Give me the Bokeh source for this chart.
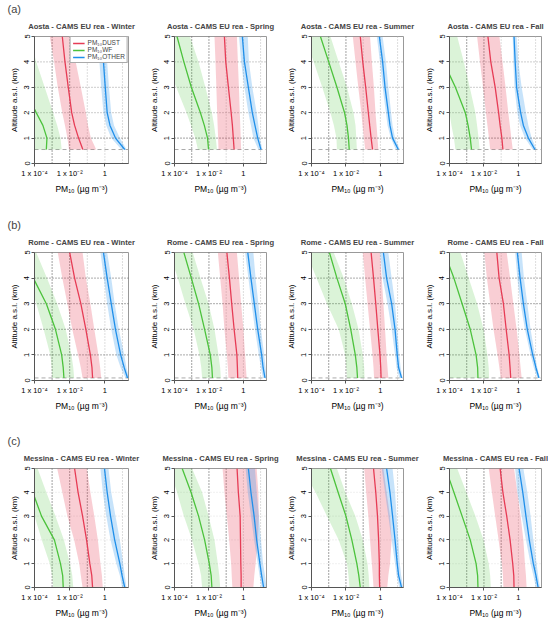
from bokeh.plotting import figure
from bokeh.layouts import column, row
from bokeh.models import Range1d, FixedTicker, Span, Title, Legend, LegendItem
from bokeh.embed import file_html
from bokeh.resources import INLINE

# ---------------- data ----------------
stations = ["Aosta", "Rome", "Messina"]
seasons = ["Winter", "Spring", "Summer", "Fall"]
panel_letters = ["(a)", "(b)", "(c)"]
series_keys = ["dust", "wf", "other"]
series_names = ["PM\u2081\u2080DUST", "PM\u2081\u2080WF", "PM\u2081\u2080OTHER"]
x_tick_values = [1e-4, 1e-2, 1]
x_tick_labels = ["1 x 10\u207b\u2074", "1 x 10\u207b\u00b2", "1"]
y_tick_values = [0, 1, 2, 3, 4, 5]
x_label = "PM\u2081\u2080 (\u00b5g m\u207b\u00b3)"
y_label = "Altitude a.s.l. (km)"

# altitude levels (km a.s.l.) of the profiles
alt_aosta = [0.55, 1, 1.5, 2, 3, 4, 5]
alt_rome = [0.1, 0.5, 1, 2, 3, 4, 5]
alt_messina = [0, 0.5, 1, 2, 3, 4, 5]
station_altitude = [0.55, 0.1, None]

# ---- Aosta (µg m-3): median, lower, upper ----
aosta_winter_dust = [0.056, 0.032, 0.019, 0.013, 0.0083, 0.0054, 0.0038]
aosta_winter_dust_lo = [0.0091, 0.0074, 0.0054, 0.0038, 0.0021, 0.0013, 0.00074]
aosta_winter_dust_hi = [0.32, 0.16, 0.11, 0.083, 0.043, 0.022, 0.013]
aosta_winter_wf = [4.7e-4, 5.1e-4, 3.0e-4, 1.26e-4, 2.5e-5, 6.3e-6, 1.6e-6]
aosta_winter_wf_lo = [1e-6, 1e-6, 1e-6, 1e-6, 1e-6, 1e-6, 1e-6]
aosta_winter_wf_hi = [3.5e-3, 3.0e-3, 1.95e-3, 1.15e-3, 3.8e-4, 1.26e-4, 5.1e-5]
aosta_winter_other = [13.5, 4.0, 1.95, 1.35, 1.05, 0.83, 0.74]
aosta_winter_other_lo = [8.7, 2.3, 1.2, 0.83, 0.62, 0.49, 0.43]
aosta_winter_other_hi = [17, 7.1, 3.3, 2.3, 1.7, 1.35, 1.2]

aosta_spring_dust = [0.29, 0.26, 0.23, 0.195, 0.135, 0.095, 0.079]
aosta_spring_dust_lo = [0.036, 0.034, 0.032, 0.030, 0.027, 0.024, 0.021]
aosta_spring_dust_hi = [0.74, 0.70, 0.66, 0.62, 0.55, 0.48, 0.42]
aosta_spring_wf = [9.5e-3, 8.3e-3, 5.4e-3, 3.2e-3, 9.5e-4, 3.5e-4, 1.4e-4]
aosta_spring_wf_lo = [2.3e-3, 1.6e-3, 9.1e-4, 5e-4, 1.26e-4, 3.2e-5, 1e-5]
aosta_spring_wf_hi = [0.029, 0.025, 0.020, 0.0148, 6.2e-3, 2.5e-3, 7.9e-4]
aosta_spring_other = [10.5, 6.8, 4.7, 3.3, 1.95, 1.15, 0.87]
aosta_spring_other_lo = [7.4, 3.8, 2.75, 1.95, 1.15, 0.74, 0.56]
aosta_spring_other_hi = [12.6, 9.1, 7.4, 5.9, 3.3, 2.1, 1.8]

aosta_summer_dust = [0.35, 0.29, 0.24, 0.20, 0.14, 0.095, 0.068]
aosta_summer_dust_lo = [0.13, 0.11, 0.093, 0.078, 0.052, 0.036, 0.025]
aosta_summer_dust_hi = [0.76, 0.68, 0.60, 0.52, 0.42, 0.32, 0.25]
aosta_summer_wf = [0.0155, 0.0141, 0.0115, 8.3e-3, 3.0e-3, 1.0e-3, 3.3e-4]
aosta_summer_wf_lo = [3.0e-3, 2.8e-3, 2.0e-3, 1.26e-3, 4.2e-4, 1.35e-4, 4e-5]
aosta_summer_wf_hi = [0.043, 0.040, 0.036, 0.0275, 0.0115, 3.8e-3, 1.26e-3]
aosta_summer_other = [11, 5.1, 3.6, 2.9, 1.86, 1.35, 0.87]
aosta_summer_other_lo = [7.9, 4.0, 2.6, 2.1, 1.35, 0.95, 0.62]
aosta_summer_other_hi = [13.5, 7.1, 5.1, 4.2, 2.9, 2.1, 1.35]

aosta_fall_dust = [0.126, 0.11, 0.087, 0.071, 0.045, 0.025, 0.017]
aosta_fall_dust_lo = [0.023, 0.0195, 0.016, 0.013, 8.9e-3, 5.9e-3, 4.0e-3]
aosta_fall_dust_hi = [0.47, 0.39, 0.32, 0.26, 0.18, 0.12, 0.079]
aosta_fall_wf = [1.9e-3, 1.6e-3, 1.2e-3, 8.3e-4, 2.2e-4, 4.5e-5, 1e-5]
aosta_fall_wf_lo = [2.2e-4, 1.8e-4, 1.3e-4, 1e-4, 3e-5, 1e-5, 3e-6]
aosta_fall_wf_hi = [5.6e-3, 4.9e-3, 4e-3, 3.2e-3, 1.5e-3, 6.8e-4, 2.8e-4]
aosta_fall_other = [9.1, 3.8, 1.95, 1.35, 0.79, 0.65, 0.56]
aosta_fall_other_lo = [6.8, 2.4, 1.26, 0.87, 0.59, 0.51, 0.47]
aosta_fall_other_hi = [11.5, 5.9, 3.8, 2.75, 1.55, 1.0, 0.79]

# ---- Rome ----
rome_winter_dust = [0.20, 0.185, 0.15, 0.083, 0.043, 0.019, 0.010]
rome_winter_dust_lo = [0.054, 0.043, 0.030, 0.014, 7.4e-3, 3.8e-3, 2.1e-3]
rome_winter_dust_hi = [0.62, 0.54, 0.43, 0.25, 0.15, 0.083, 0.054]
rome_winter_wf = [4.7e-3, 4.3e-3, 3.5e-3, 1.55e-3, 4.7e-4, 8.5e-5, 1e-5]
rome_winter_wf_lo = [1e-3, 9.5e-4, 7.9e-4, 3.3e-4, 1.26e-4, 4e-5, 1.3e-5]
rome_winter_wf_hi = [0.018, 0.016, 0.0126, 5.9e-3, 1.95e-3, 5.1e-4, 1.26e-4]
rome_winter_other = [19.5, 12.6, 7.9, 4.0, 2.3, 1.35, 0.83]
rome_winter_other_lo = [15, 7.9, 4.5, 2.3, 1.35, 0.87, 0.56]
rome_winter_other_hi = [23, 17, 12.6, 6.2, 3.6, 2.3, 1.35]

rome_spring_dust = [0.47, 0.45, 0.42, 0.29, 0.21, 0.155, 0.11]
rome_spring_dust_lo = [0.135, 0.126, 0.11, 0.079, 0.062, 0.045, 0.033]
rome_spring_dust_hi = [1.55, 1.41, 1.26, 1.0, 0.74, 0.56, 0.42]
rome_spring_wf = [0.016, 0.0148, 0.012, 5.6e-3, 2.5e-3, 9.5e-4, 3.5e-4]
rome_spring_wf_lo = [4e-3, 3.6e-3, 2.8e-3, 1.3e-3, 4.3e-4, 1.55e-4, 5e-5]
rome_spring_wf_hi = [0.049, 0.045, 0.036, 0.021, 9.5e-3, 3.2e-3, 1.15e-3]
rome_spring_other = [18, 14, 11.5, 6.8, 4.3, 2.75, 1.8]
rome_spring_other_lo = [13.5, 10.5, 7.9, 4.7, 3.0, 1.95, 1.26]
rome_spring_other_hi = [22, 19.5, 16, 10.5, 7.4, 5.1, 3.8]

rome_summer_dust = [1.1, 1.05, 0.95, 0.71, 0.54, 0.40, 0.29]
rome_summer_dust_lo = [0.43, 0.40, 0.35, 0.25, 0.18, 0.13, 0.095]
rome_summer_dust_hi = [2.9, 2.6, 2.3, 1.86, 1.5, 1.2, 0.95]
rome_summer_wf = [0.047, 0.043, 0.035, 0.019, 9.1e-3, 3.0e-3, 1.1e-3]
rome_summer_wf_lo = [0.0115, 0.0105, 9.1e-3, 3.8e-3, 7.9e-4, 1.95e-4, 5e-5]
rome_summer_wf_hi = [0.12, 0.115, 0.095, 0.054, 0.022, 7.4e-3, 1.95e-3]
rome_summer_other = [17, 11.5, 9.5, 7.1, 4.5, 2.3, 1.5]
rome_summer_other_lo = [12.6, 8.7, 7.1, 4.5, 2.6, 1.35, 0.95]
rome_summer_other_hi = [19.5, 15, 12.6, 9.5, 7.1, 4.5, 2.9]

rome_fall_dust = [0.36, 0.33, 0.29, 0.195, 0.135, 0.076, 0.056]
rome_fall_dust_lo = [0.095, 0.079, 0.062, 0.036, 0.023, 0.0148, 0.0105]
rome_fall_dust_hi = [1.55, 1.35, 1.15, 0.79, 0.51, 0.33, 0.21]
rome_fall_wf = [4.5e-3, 4.3e-3, 3.5e-3, 1.6e-3, 5.4e-4, 1.8e-4, 5e-5]
rome_fall_wf_lo = [9e-5, 8e-5, 6e-5, 3e-5, 1e-5, 5e-6, 2e-6]
rome_fall_wf_hi = [0.020, 0.019, 0.016, 9.5e-3, 4e-3, 1.3e-3, 4.3e-4]
rome_fall_other = [15.5, 10.5, 6.8, 3.3, 1.95, 1.26, 0.87]
rome_fall_other_lo = [12.6, 7.9, 5.1, 2.4, 1.35, 0.87, 0.65]
rome_fall_other_hi = [18, 12.6, 9.1, 5.1, 3.3, 2.1, 1.55]

# ---- Messina ----
messina_winter_dust = [0.20, 0.18, 0.14, 0.091, 0.054, 0.030, 0.019]
messina_winter_dust_lo = [0.054, 0.043, 0.035, 0.018, 7.4e-3, 3.8e-3, 1.95e-3]
messina_winter_dust_hi = [0.76, 0.68, 0.56, 0.40, 0.25, 0.15, 0.095]
messina_winter_wf = [4.3e-3, 4.0e-3, 3.0e-3, 1.35e-3, 2.5e-4, 8e-5, 1e-5]
messina_winter_wf_lo = [1.15e-3, 1e-3, 7.4e-4, 2.6e-4, 1e-4, 2.5e-5, 6e-6]
messina_winter_wf_hi = [0.016, 0.014, 0.0105, 4.7e-3, 1.55e-3, 4.7e-4, 1.5e-4]
messina_winter_other = [13.5, 9.5, 7.1, 3.6, 2.1, 1.35, 0.95]
messina_winter_other_lo = [9.5, 7.1, 4.5, 2.1, 1.2, 0.76, 0.56]
messina_winter_other_hi = [17, 13.5, 11, 7.1, 4.0, 2.3, 1.6]

messina_spring_dust = [0.74, 0.74, 0.71, 0.68, 0.65, 0.51, 0.43]
messina_spring_dust_lo = [0.23, 0.21, 0.195, 0.15, 0.11, 0.079, 0.062]
messina_spring_dust_hi = [3.8, 4.3, 5.1, 7.0, 7.9, 7.4, 5.9]
messina_spring_wf = [0.0148, 0.0135, 0.0105, 5.6e-3, 2.5e-3, 9.1e-4, 2.8e-4]
messina_spring_wf_lo = [4e-3, 3.5e-3, 2.5e-3, 1.05e-3, 3.5e-4, 1.4e-4, 5e-5]
messina_spring_wf_hi = [0.045, 0.040, 0.033, 0.021, 9.5e-3, 4e-3, 1.05e-3]
messina_spring_other = [15, 11.5, 9.1, 5.9, 4.2, 2.75, 1.95]
messina_spring_other_lo = [11.5, 8.7, 6.8, 4.2, 2.75, 1.8, 1.35]
messina_spring_other_hi = [22, 18, 14, 10.5, 7.9, 5.9, 4.7]

messina_summer_dust = [0.91, 0.87, 0.87, 0.79, 0.68, 0.54, 0.40]
messina_summer_dust_lo = [0.40, 0.36, 0.32, 0.25, 0.20, 0.15, 0.115]
messina_summer_dust_hi = [2.5, 2.9, 3.6, 4.5, 3.6, 2.3, 1.5]
messina_summer_wf = [0.068, 0.056, 0.043, 0.022, 0.010, 3.5e-3, 1.26e-3]
messina_summer_wf_lo = [0.016, 0.014, 0.0115, 3.8e-3, 7.9e-4, 1.7e-4, 3e-5]
messina_summer_wf_hi = [0.23, 0.21, 0.18, 0.095, 0.035, 9.1e-3, 3e-3]
messina_summer_other = [17, 11.5, 9.5, 7.1, 5.1, 3.6, 2.3]
messina_summer_other_lo = [12.6, 8.7, 7.1, 4.5, 2.9, 1.86, 1.2]
messina_summer_other_hi = [21, 16, 13.5, 11, 8.7, 7.1, 5.1]

messina_fall_dust = [0.56, 0.54, 0.47, 0.33, 0.21, 0.126, 0.087]
messina_fall_dust_lo = [0.135, 0.126, 0.11, 0.071, 0.045, 0.029, 0.019]
messina_fall_dust_hi = [3.0, 2.75, 2.4, 1.95, 1.35, 0.87, 0.56]
messina_fall_wf = [4.5e-3, 4.3e-3, 3.5e-3, 1.6e-3, 5.4e-4, 1.8e-4, 6e-5]
messina_fall_wf_lo = [9e-5, 8e-5, 6e-5, 3e-5, 1e-5, 5e-6, 2e-6]
messina_fall_wf_hi = [0.025, 0.023, 0.019, 9.5e-3, 3.2e-3, 9.5e-4, 2.8e-4]
messina_fall_other = [14, 10.5, 7.4, 4.3, 2.75, 1.8, 1.1]
messina_fall_other_lo = [10.5, 7.4, 5.1, 2.75, 1.55, 0.87, 0.65]
messina_fall_other_hi = [18, 14, 11.5, 7.4, 5.1, 3.3, 1.95]

altitudes = [alt_aosta, alt_rome, alt_messina]

# ---------------- style ----------------
FONT = "Liberation Sans"
colors = {"dust": "#E63C55", "wf": "#4CC23C", "other": "#1F8FEA"}
band_alpha = {"dust": 0.25, "wf": 0.2, "other": 0.25}
DARK = "#444444"
LIGHT = "#BBBBBB"
hgrid_style = [
    {1: DARK, 2: "#999999", 3: "#999999", 4: "#999999"},
    {1: "#555555", 2: "#555555", 3: "#555555", 4: "#555555"},
    {1: "#E0E0E0", 2: "#E0E0E0", 3: "#E0E0E0", 4: "#E0E0E0"},
]
vgrid_style = [
    {1e-3: DARK, 1e-2: DARK, 1e-1: LIGHT, 1: LIGHT, 10: LIGHT},
    {1e-3: DARK, 1e-2: DARK, 1e-1: LIGHT, 1: LIGHT, 10: LIGHT},
    {1e-3: DARK, 1e-2: DARK, 1e-1: DARK, 1: LIGHT, 10: LIGHT},
]
FRAME_W = 94
border_left = [34, 26, 26, 26]
border_right = [18, 17, 18, 7]
border_top = [36, 36, 36]
border_bottom = [53, 52, 24]
frame_h = [127, 128, 128]


def style_title(t):
    t.align = "center"
    t.text_font = FONT
    t.text_font_size = "7.6px"
    t.text_font_style = "bold"
    t.standoff = 11


def make_panel(si, ci):
    station, season = stations[si], seasons[ci]
    alts = altitudes[si]
    w = border_left[ci] + FRAME_W + border_right[ci]
    h = border_top[si] + frame_h[si] + border_bottom[si]
    p = figure(width=w, height=h, x_axis_type="log",
               x_range=Range1d(1e-4, 22), y_range=Range1d(0, 5),
               output_backend="svg", toolbar_location=None,
               min_border_left=border_left[ci], min_border_right=border_right[ci],
               min_border_top=border_top[si], min_border_bottom=border_bottom[si])
    title_text = f"{station} - CAMS EU rea - {season}"
    if ci == 0:
        # outermost: the panel letter; next to the frame: the panel title
        p.title.text = panel_letters[si]
        p.title.align = "left"
        p.title.offset = -27
        p.title.text_font = FONT
        p.title.text_font_size = "11px"
        p.title.text_font_style = "normal"
        p.title.standoff = 0
        sub = Title(text=title_text)
        style_title(sub)
        p.add_layout(sub, "above")
    else:
        p.title.text = title_text
        style_title(p.title)
    p.xgrid.visible = False
    p.ygrid.visible = False
    p.outline_line_color = "#999999"
    p.background_fill_color = "white"

    for val, col in vgrid_style[si].items():
        p.add_layout(Span(location=val, dimension="height", line_color=col,
                          line_dash="1 2", line_width=1, level="underlay"))
    for val, col in hgrid_style[si].items():
        p.add_layout(Span(location=val, dimension="width", line_color=col,
                          line_dash="1 2", line_width=1, level="underlay"))
    if station_altitude[si] is not None:
        p.add_layout(Span(location=station_altitude[si], dimension="width",
                          line_color="#AAAAAA", line_dash="4 3", line_width=1,
                          level="underlay"))

    prefix = f"{station.lower()}_{season.lower()}"
    for key in ["wf", "dust", "other"]:
        lo = globals()[f"{prefix}_{key}_lo"]
        hi = globals()[f"{prefix}_{key}_hi"]
        p.harea(y=alts, x1=lo, x2=hi, fill_color=colors[key],
                fill_alpha=band_alpha[key])
    lines = {}
    for key in ["wf", "dust", "other"]:
        med = globals()[f"{prefix}_{key}"]
        lines[key] = p.line(x=med, y=alts, line_color=colors[key], line_width=1.3)

    xa = p.xaxis[0]
    xa.ticker = FixedTicker(ticks=x_tick_values)
    xa.major_label_overrides = dict(zip(x_tick_values, x_tick_labels))
    ya = p.yaxis[0]
    ya.ticker = FixedTicker(ticks=y_tick_values)
    ya.major_label_orientation = "vertical"
    for ax in (xa, ya):
        ax.minor_tick_line_color = None
        ax.major_tick_out = 3
        ax.major_tick_in = 0
        ax.axis_line_color = "#555555"
        ax.major_tick_line_color = "#555555"
        ax.major_label_text_font = FONT
        ax.major_label_text_font_size = "7.5px"
        ax.major_label_text_color = "black"
        ax.major_label_standoff = 2
        ax.axis_label_text_font = FONT
        ax.axis_label_text_font_style = "normal"
        ax.axis_label_text_color = "black"
    xa.axis_label = x_label
    xa.axis_label_text_font_size = "8.5px"
    xa.axis_label_standoff = 3
    ya.axis_label = y_label
    ya.axis_label_text_font_size = "8px"
    ya.axis_label_standoff = 3

    if si == 0 and ci == 0:
        legend = Legend(items=[LegendItem(label=series_names[k], renderers=[lines[key]])
                               for k, key in enumerate(series_keys)],
                        location="top_right")
        legend.margin = 0
        legend.padding = 2
        legend.spacing = 0
        legend.label_text_font = FONT
        legend.label_text_font_size = "6.5px"
        legend.label_height = 6
        legend.glyph_height = 6
        legend.glyph_width = 12
        legend.label_standoff = 3
        legend.border_line_color = "#555555"
        legend.background_fill_alpha = 1
        p.add_layout(legend)
    return p


rows = []
for si in range(3):
    rows.append(row(*[make_panel(si, ci) for ci in range(4)]))
layout = column(*rows)

open("out.html", "w").write(file_html(layout, INLINE))
